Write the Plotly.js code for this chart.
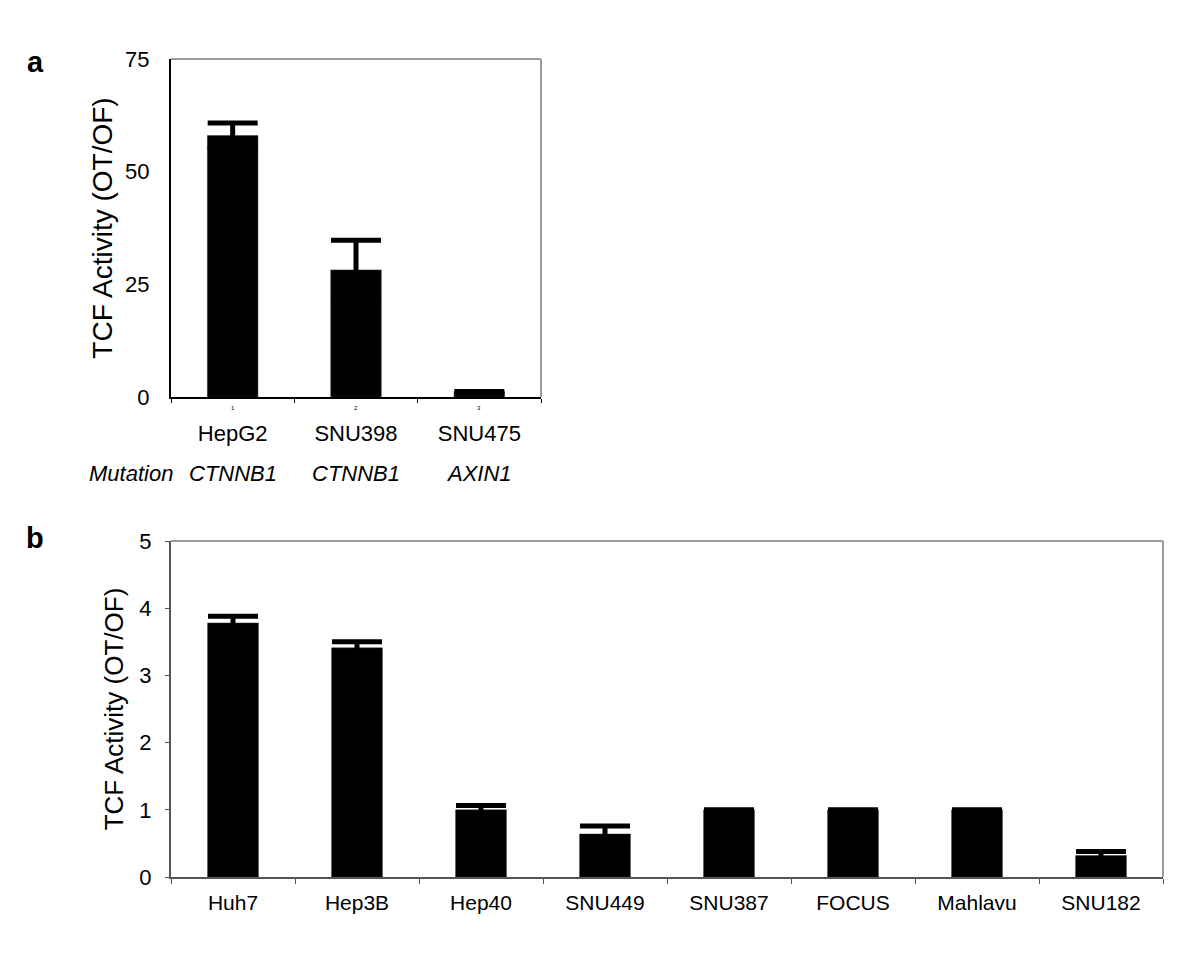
<!DOCTYPE html>
<html>
<head>
<meta charset="utf-8">
<script src="https://cdn.plot.ly/plotly-3.0.1.min.js"></script>
<style>html,body{margin:0;padding:0;background:#fff;}#chart{width:1200px;height:962px;}</style>
</head>
<body>
<div id="chart"></div>
<script>
// Panel a data
const cellLinesA = ["HepG2", "SNU398", "SNU475"];
const valuesA = [58, 28.2, 1.2];
const errorsA = [2.8, 6.6, null];
const mutationsA = ["CTNNB1", "CTNNB1", "AXIN1"];
const indexLabelsA = ["1", "2", "3"];
const yTicksA = [0, 25, 50, 75];

// Panel b data
const cellLinesB = ["Huh7", "Hep3B", "Hep40", "SNU449", "SNU387", "FOCUS", "Mahlavu", "SNU182"];
const valuesB = [3.78, 3.41, 1.0, 0.64, 1.0, 1.0, 1.0, 0.32];
const errorsB = [0.1, 0.09, 0.065, 0.12, null, null, null, 0.06];
const yTicksB = [0, 1, 2, 3, 4, 5];

const FONT = "Liberation Sans, Arial, sans-serif";

const traces = [
  {
    type: "bar", x: cellLinesA, y: valuesA, xaxis: "x", yaxis: "y",
    width: 0.41,
    marker: {color: "#000", line: {color: "#333", width: 0.5}},
    error_y: {type: "data", array: errorsA, visible: true, color: "#000", thickness: 5, width: 25},
    hoverinfo: "x+y", showlegend: false
  },
  {
    type: "bar", x: cellLinesB, y: valuesB, xaxis: "x2", yaxis: "y2",
    width: 0.41,
    marker: {color: "#000", line: {color: "#333", width: 0.5}},
    error_y: {type: "data", array: errorsB, visible: true, color: "#000", thickness: 5, width: 25},
    hoverinfo: "x+y", showlegend: false
  }
];

const annotations = [];
annotations.push({text: "<b>a</b>", xref: "paper", yref: "paper", x: 35/1200, y: 1 - 62/962,
  xanchor: "center", yanchor: "middle",
  showarrow: false, font: {family: FONT, size: 29, color: "#000"}});
annotations.push({text: "<b>b</b>", xref: "paper", yref: "paper", x: 35/1200, y: 1 - 538/962,
  xanchor: "center", yanchor: "middle",
  showarrow: false, font: {family: FONT, size: 29, color: "#000"}});
cellLinesA.forEach((c, i) => {
  annotations.push({text: indexLabelsA[i], xref: "x", yref: "paper", x: c, y: 1 - 408/962,
    xanchor: "center", yanchor: "middle",
    showarrow: false, font: {family: FONT, size: 6, color: "#000"}});
  annotations.push({text: "<i>" + mutationsA[i] + "</i>", xref: "x", yref: "paper", x: c, y: 1 - 473/962,
    xanchor: "center", yanchor: "middle",
    showarrow: false, font: {family: FONT, size: 22, color: "#000"}});
});
annotations.push({text: "<i>Mutation</i>", xref: "paper", yref: "paper", x: 131/1200, y: 1 - 473/962,
  xanchor: "center", yanchor: "middle",
  showarrow: false, font: {family: FONT, size: 22, color: "#000"}});

const borderShapes = [];
[["x", "y"], ["x2", "y2"]].forEach(([xa, ya]) => {
  borderShapes.push({type: "line", xref: xa + " domain", yref: ya + " domain", x0: 0, x1: 1, y0: 1, y1: 1,
    line: {color: "#9a9a9a", width: 2}});
  borderShapes.push({type: "line", xref: xa + " domain", yref: ya + " domain", x0: 1, x1: 1, y0: 0, y1: 1,
    line: {color: "#9a9a9a", width: 2}});
});

const layout = {
  width: 1200, height: 962,
  margin: {l: 0, r: 0, t: 0, b: 0},
  paper_bgcolor: "#fff", plot_bgcolor: "#fff",
  font: {family: FONT, color: "#000"},
  xaxis: {
    domain: [171/1200, 541/1200], anchor: "y", type: "category",
    showline: true, linecolor: "#000", linewidth: 2,
    ticks: "outside", tickson: "boundaries", ticklen: 4, tickcolor: "#000", tickwidth: 1,
    tickfont: {size: 22, family: FONT}, ticklabelstandoff: 16,
    showgrid: false, zeroline: false
  },
  yaxis: {
    domain: [1 - 397/962, 1 - 59/962], anchor: "x",
    range: [0, 75], tickvals: yTicksA,
    showline: true, linecolor: "#000", linewidth: 2,
    ticks: "",
    tickfont: {size: 22, family: FONT}, ticklabelstandoff: 15,
    showgrid: false, zeroline: false,
    title: {text: "TCF Activity (OT/OF)", font: {size: 28, family: FONT}, standoff: 4}
  },
  xaxis2: {
    domain: [171/1200, 1163/1200], anchor: "y2", type: "category",
    showline: true, linecolor: "#555", linewidth: 2,
    ticks: "outside", tickson: "boundaries", ticklen: 5, tickcolor: "#555", tickwidth: 1,
    tickfont: {size: 21, family: FONT}, ticklabelstandoff: 6,
    showgrid: false, zeroline: false
  },
  yaxis2: {
    domain: [1 - 877/962, 1 - 541/962], anchor: "x2",
    range: [0, 5], tickvals: yTicksB,
    showline: true, linecolor: "#555", linewidth: 2,
    ticks: "outside", ticklen: 4, tickcolor: "#555",
    tickfont: {size: 22, family: FONT}, ticklabelstandoff: 9,
    showgrid: false, zeroline: false,
    title: {text: "TCF Activity (OT/OF)", font: {size: 26, family: FONT}, standoff: 8}
  },
  annotations: annotations,
  shapes: borderShapes
};

Plotly.newPlot("chart", traces, layout, {displayModeBar: false, staticPlot: true});
</script>
</body>
</html>
